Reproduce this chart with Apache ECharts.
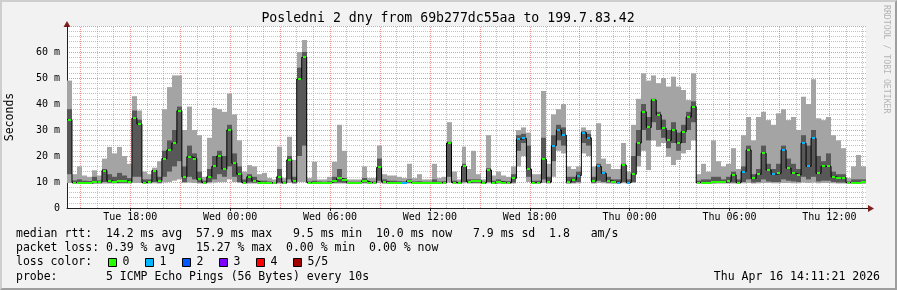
<!DOCTYPE html>
<html><head><meta charset="utf-8">
<script src="https://cdn.jsdelivr.net/npm/echarts@6/dist/echarts.min.js"></script>
<style>
html,body{margin:0;padding:0;background:#f2f2f2;}
#wrap{position:relative;width:897px;height:290px;}
#c{width:897px;height:290px;}
#frame{position:absolute;left:0;top:0;width:897px;height:290px;box-sizing:border-box;border-top:2px solid #cecece;border-left:2px solid #cecece;border-bottom:2px solid #9e9e9e;border-right:2px solid #9e9e9e;pointer-events:none;}
</style></head>
<body><div id="wrap"><div id="c"></div><div id="frame"></div></div>
<script>
// ---- time base: hours since Tue 00:00 ----
const startHour = 14.2;      // Tue 14:12
const endHour = 62.2;        // Thu 14:12
const bucketHours = 0.3;     // 18 min per column group

const smokeMax = [
 49,13,16,12.5,12,14.5,12.5,19,23.5,21,
 23.5,20,17,43,37.5,14,13,15.5,18,38,
 46.5,51,51,30,39,30,28,12,27,38.5,
 38,37,44,36,26,14,16.5,16,13,13.5,
 11.5,11,23.6,11.5,27.4,18.5,60,64.6,11.5,17.8,
 11,11,12,17.8,32,22,11,11,11,16,
 11.5,11.5,24,13,12.5,12.5,12,11.5,17,11.5,
 13,11,11,17,11.5,12,33,14,11,23.6,
 15,22,13,11,28,12.5,14,12.5,12,16,
 30,31,29,13,13,45,17,36,38,40,
 16,15,16,31,30,16,32.6,19,17,15,
 15,25,14,32,42,51.8,49,51,48,50,
 46.7,50.5,46.7,45.4,41.5,51.8,13,17,14,26,
 18,16,17,23,15,28,35,26,35,37,
 33.8,32,36.4,38,33.8,35,30,42.8,40,49.5,
 34.5,33.8,35,28,26,23,11.5,16,20.4,16
];
const smokeUpper = [
 38,10.6,11,10.5,10.4,12,10.6,15,13,12,
 13.5,12.5,11.5,37.5,34,11,11,14.5,12,22,
 26,30,39,16,24,21,14,10.5,15,20,
 22,20,32,21,16,11,13,12,10.5,10.5,
 10.2,10,15,10.2,20,12,54,60,10.2,10.5,
 10.2,10.1,10.3,12,15,11.5,10.1,10.1,10.1,11.5,
 10.2,10.2,19,11,10.5,10.5,10.3,10.2,11,10.2,
 10.3,10.1,10.1,11,10.2,10.3,25.5,10.5,10.1,17,
 11,11,11,10.1,15.3,10.5,11,10.4,10.3,13,
 28,28.5,24,10.5,10.5,27,12,28,32,31,
 12,12,14,29.5,28.5,12,17,14,12,11,
 11,17,11,20,30,40,35,42,37,34,
 30,33,29,32,37,41,10.5,11,11,12,
 12,11,12,14,11,16,24,13,15,24,
 17,15,17,24,19,17,15,28,24,30,
 20,18,21,14,13,13,10.2,11,11,11
];
const medianRtt = [
 34,9.8,9.7,9.6,9.6,10,9.9,14.4,10.4,10,
 10.3,10.5,10,34.5,32.3,9.8,10,14.4,10.5,19,
 22.3,25,37.4,12,19.7,19,11,9.8,12,16,
 20,15,30,17.2,13,9.8,12,10.5,9.8,9.7,
 9.7,9.6,12,9.7,18.5,10.2,49.6,57.9,9.8,9.8,
 9.7,9.7,9.8,10.5,11.4,10.8,9.7,9.7,9.7,10.5,
 9.8,9.8,15.6,10,9.8,9.8,9.7,9.7,10.5,9.7,
 9.8,9.7,9.7,9.8,9.7,9.8,25,9.8,9.7,16,
 10,10.5,10.5,9.7,14.6,9.7,10,9.8,9.7,11.4,
 26.5,26.8,15,9.8,9.8,18.7,10,24,30,28,
 10,10.8,12.5,29,27,10.3,16,13.3,10.5,10,
 9.8,16.5,9.8,13,25,37,31,41.5,35.8,30.6,
 26,30,25,29.4,35,39,9.8,9.8,9.8,9.9,
 10,10,10.3,12.7,9.8,14,22.3,11.4,13,21,
 14.6,13,13.3,22.3,15.3,13.3,12.7,24.9,16,26.8,
 13.3,16,16,12,11.4,11.7,9.8,9.8,9.8,10
];
const smokeLower = [
 13,9.6,9.5,9.5,9.5,9.6,9.6,10,9.7,9.6,
 9.7,9.7,9.6,12,12,9.6,9.6,10,9.7,12,
 14,16,18,10,12,11,9.8,9.6,10,11,
 13,12,16,12,10,9.6,9.8,9.7,9.6,9.5,
 9.5,9.5,9.8,9.5,11,9.6,20,24,9.6,9.6,
 9.5,9.5,9.6,9.7,9.8,9.7,9.5,9.5,9.5,9.7,
 9.6,9.6,10.5,9.6,9.6,9.6,9.5,9.5,9.7,9.5,
 9.6,9.5,9.5,9.6,9.5,9.6,12,9.6,9.5,10,
 9.6,9.7,9.7,9.5,10,9.5,9.6,9.6,9.5,9.8,
 22,25,12,9.6,9.6,11,9.6,18,26,24,
 9.6,9.7,10,25,24,9.7,10.5,10,9.7,9.6,
 9.6,10,9.6,10,20,30,26,33,30,27,
 23,25,22,25,30,33,9.6,9.6,9.6,9.6,
 9.6,9.6,9.7,9.8,9.6,10,11,9.8,10,11,
 10.2,10,10,11,10.5,10.2,10,12,11,12,
 10.2,10.5,10.5,10,9.8,9.8,9.6,9.6,9.6,9.6
];
const smokeMin = [
 9.6,9.3,9.3,9.3,9.3,9.3,9.3,9.4,9.4,9.4,
 9.4,9.4,9.4,9.6,9.6,9.4,9.4,9.5,9.4,9.8,
 10,10.5,11,9.6,9.8,9.6,9.4,9.3,9.5,9.8,
 10,10,11,10,9.6,9.3,9.4,9.4,9.3,9.3,
 9.3,9.3,9.4,9.3,9.6,9.3,10,10,9.3,9.3,
 9.3,9.3,9.3,9.4,9.4,9.4,9.3,9.3,9.3,9.4,
 9.3,9.3,9.6,9.3,9.3,9.3,9.3,9.3,9.4,9.3,
 9.3,9.3,9.3,9.3,9.3,9.3,9.8,9.3,9.3,9.5,
 9.4,9.4,9.4,9.3,9.5,9.3,9.3,9.3,9.3,9.4,
 16,20,10,9.3,9.3,9.6,9.4,12,22,21,
 9.3,9.4,9.5,21,20,9.4,9.6,9.5,9.4,9.3,
 9.3,9.5,9.3,9.6,16,22,14.6,26,23.6,25,
 19.7,16.5,18.5,21,22.3,26,9.3,9.3,9.3,9.3,
 9.4,9.4,9.4,9.4,9.3,9.5,9.6,9.4,9.5,9.6,
 9.6,9.5,9.5,9.6,9.6,9.5,9.5,9.8,9.6,9.8,
 9.5,9.6,9.6,9.5,9.4,9.4,9.3,9.3,9.3,9.3
];
const lossCount = [
 0,0,0,0,0,0,0,0,0,0, 0,0,0,0,0,0,0,0,0,0,
 0,0,0,0,0,0,0,0,0,0, 0,0,0,0,0,0,0,0,0,0,
 0,0,0,0,0,0,0,0,0,0, 0,0,0,0,0,0,0,0,0,0,
 0,0,0,0,0,0,0,1,0,0, 0,0,0,0,0,0,0,0,0,0,
 0,0,0,0,0,0,0,0,0,0, 1,1,0,0,0,0,0,1,1,1,
 0,0,1,1,1,0,1,1,0,0, 1,0,1,0,0,0,0,0,0,0,
 0,0,0,0,0,0,0,0,0,0, 0,0,0,0,0,1,0,0,0,0,
 0,1,0,1,0,0,0,1,1,1, 0,0,0,0,0,0,0,0,0,0
];
const timeTickHours = [18,24,30,36,42,48,54,60];
const timeTickLabels = ['Tue 18:00','Wed 00:00','Wed 06:00','Wed 12:00','Wed 18:00','Thu 00:00','Thu 06:00','Thu 12:00'];
const lossColors = ['#26ff00','#00b8ff','#0059ff','#7e00ff','#ff0000','#a10000'];
const lossLabels = ['0','1','2','3','4','5/5'];
const titleText = 'Posledni 2 dny from 69b277dc55aa to 199.7.83.42';
const legendLines = [
 'median rtt:  14.2 ms avg  57.9 ms max   9.5 ms min  10.0 ms now   7.9 ms sd  1.8   am/s',
 'packet loss: 0.39 % avg   15.27 % max  0.00 % min  0.00 % now',
 'loss color:',
 'probe:       5 ICMP Echo Pings (56 Bytes) every 10s'
];
const dateText = 'Thu Apr 16 14:11:21 2026';

// ---- build series data ----
const smokeData = [], medMarks = [], medLine = [];
for (let i = 0; i < medianRtt.length; i++) {
  const t0 = startHour + i * bucketHours, t1 = t0 + bucketHours;
  smokeData.push([t0, t1, smokeMin[i], smokeLower[i], smokeUpper[i], smokeMax[i]]);
  const prev = i > 0 ? medianRtt[i-1] : medianRtt[i];
  const next = i < medianRtt.length-1 ? medianRtt[i+1] : medianRtt[i];
  const steady = Math.abs(prev - medianRtt[i]) < 1.5 && Math.abs(next - medianRtt[i]) < 1.5 ? 1 : 0;
  medMarks.push([t0, t1, medianRtt[i], lossCount[i], steady]);
  medLine.push([t0, medianRtt[i]]);
}
medLine.push([endHour, medianRtt[medianRtt.length-1]]);

const MONO = '"DejaVu Sans Mono", monospace';
const LIGHT = '#a4a4a4', DARK = '#585858';

function smokeItem(params, api) {
  const x0 = Math.round(api.coord([api.value(0), 0])[0]);
  const x1 = Math.round(api.coord([api.value(1), 0])[0]);
  const yMin = api.coord([0, api.value(2)])[1];
  const yLo = api.coord([0, api.value(3)])[1];
  const yHi = api.coord([0, api.value(4)])[1];
  const yMax = api.coord([0, api.value(5)])[1];
  return {type:'group', children:[
    {type:'rect', shape:{x:x0, y:yMax, width:x1-x0, height:yMin-yMax}, style:{fill:LIGHT}},
    {type:'rect', shape:{x:x0, y:yHi, width:x1-x0, height:yLo-yHi}, style:{fill:DARK}}
  ]};
}
function medItem(params, api) {
  const x0 = Math.round(api.coord([api.value(0), 0])[0]);
  const x1 = Math.round(api.coord([api.value(1), 0])[0]);
  const y = api.coord([0, api.value(2)])[1];
  const steady = api.value(4);
  const w = steady ? x1 - x0 : 3;
  const x = steady ? x0 : Math.round((x0 + x1) / 2 - 1.5);
  return {type:'rect', shape:{x:x, y:Math.round(y) - 1, width:w, height:2},
          style:{fill: lossColors[api.value(3)]}};
}

const vGrid = [];
for (let h = Math.ceil(startHour); h <= Math.floor(endHour); h++) {
  vGrid.push({xAxis: h, lineStyle: h % 3 === 0
    ? {color:'rgba(222,79,79,0.6)', type:[1,1], width:1}
    : {color:'rgba(143,143,143,0.55)', type:[1,1], width:1}});
}

const graphic = [
  {type:'text', x:448, y:19, style:{text:titleText, font:'13.2px '+MONO, fill:'#000', align:'center', verticalAlign:'middle'}},
  {type:'text', x:10.5, y:117, rotation:Math.PI/2, style:{text:'Seconds', font:'11.5px '+MONO, fill:'#000', align:'center', verticalAlign:'middle'}},
  {type:'text', x:886, y:5, rotation:-Math.PI/2, style:{text:'RRDTOOL / TOBI OETIKER', font:'8.2px '+MONO, fill:'#b4b4b4', align:'left', verticalAlign:'middle'}},
  {type:'text', x:880, y:276.6, style:{text:dateText, font:'11.5px '+MONO, fill:'#000', align:'right', verticalAlign:'middle'}},
  {type:'polygon', shape:{points:[[63.5,27],[70.5,27],[67,21]]}, style:{fill:'#801f1f'}},
  {type:'line', shape:{x1:866, y1:208.5, x2:869, y2:208.5}, style:{stroke:'#1f1f1f', lineWidth:1}},
  {type:'polygon', shape:{points:[[868,205],[868,212],[874,208.5]]}, style:{fill:'#801f1f'}}
];
legendLines.forEach((t, k) => {
  graphic.push({type:'text', x:16, y:234 + k*14.2, style:{text:t, font:'11.5px '+MONO, fill:'#000', align:'left', verticalAlign:'middle'}});
});
lossLabels.forEach((t, k) => {
  const bx = 108 + k*37;
  graphic.push({type:'rect', shape:{x:bx+0.5, y:258.5, width:8, height:8}, style:{fill:lossColors[k], stroke:'#000', lineWidth:1}});
  graphic.push({type:'text', x:bx+14.5, y:262.4, style:{text:t, font:'11.5px '+MONO, fill:'#000', align:'left', verticalAlign:'middle'}});
});

const chart = echarts.init(document.getElementById('c'), null, {renderer:'canvas', width:897, height:290});
chart.setOption({
  animation:false,
  backgroundColor:'#f2f2f2',
  grid:{left:67, right:31, top:26, bottom:82, show:true, backgroundColor:'#ffffff', borderWidth:0},
  xAxis:{type:'value', min:startHour, max:endHour,
    axisLine:{show:true, lineStyle:{color:'#1f1f1f', width:1}},
    axisTick:{show:true, customValues:timeTickHours, length:3, inside:false, lineStyle:{color:'#1f1f1f'}},
    axisLabel:{customValues:timeTickHours, formatter:v => timeTickLabels[timeTickHours.indexOf(v)] || '',
      fontFamily:MONO, fontSize:10, color:'#000', margin:4},
    splitLine:{show:false}},
  yAxis:{type:'value', min:0, max:70, interval:10,
    axisLine:{show:true, onZero:false, lineStyle:{color:'#1f1f1f', width:1}},
    axisTick:{show:false},
    axisLabel:{formatter:v => v === 0 ? '0' : (v < 70 ? v + ' m' : ''), fontFamily:MONO, fontSize:10, color:'#000', margin:7},
    splitLine:{show:true, lineStyle:{color:'rgba(222,79,79,0.6)', type:[1,1]}},
    minorTick:{show:false, splitNumber:5},
    minorSplitLine:{show:true, lineStyle:{color:'rgba(143,143,143,0.55)', type:[1,1]}}},
  graphic:graphic,
  series:[
    {type:'line', data:[], z:1, silent:true,
     markLine:{silent:true, symbol:['none','none'], label:{show:false}, animation:false, data:vGrid}},
    {type:'custom', renderItem:smokeItem, data:smokeData, encode:{x:[0,1], y:[2,5]}, z:10, silent:true, clip:true},
    {type:'line', data:medLine, step:'end', symbol:'none', lineStyle:{color:'#000', width:1}, z:11, silent:true},
    {type:'custom', renderItem:medItem, data:medMarks, encode:{x:[0,1], y:2}, z:12, silent:true, clip:true}
  ]
});
</script>
</body></html>
